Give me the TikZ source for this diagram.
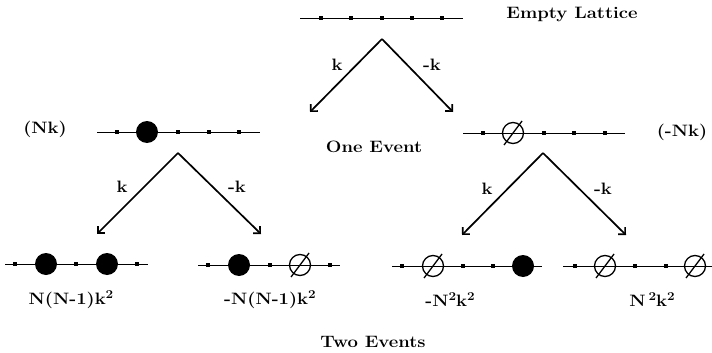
\documentclass[tikz,border=0pt]{standalone}
\usetikzlibrary{arrows.meta}
\newcommand\widetxt[1]{\scalebox{1.12}[1]{#1}}
\newcommand\sqr{\raisebox{6pt}{\fontsize{12}{12}\selectfont 2}}
\begin{document}
\begin{tikzpicture}[x=1pt,y=-1pt,
  lat/.style={line width=0.8pt},
  site/.style={rectangle,fill,minimum size=4pt,inner sep=0pt},
  occ/.style={circle,fill,minimum size=22pt,inner sep=0pt},
  anti/.style={circle,draw,line width=1.3pt,minimum size=21pt,inner sep=0pt},
  slash/.style={line width=1.3pt},
  branch/.style={line width=1.7pt,-{Straight Barb[angle=90:7pt]}},
  lbl/.style={font=\fontsize{16.5}{18}\selectfont\bfseries,inner sep=0pt}]
\useasboundingbox (0,0) rectangle (712,353);
\newcommand\antisite[2]{\node[anti] (#1) at (#2) {};
  \draw[slash] ([shift={(-9,12)}]#1.center) -- ([shift={(9,-12)}]#1.center);}

% top lattice
\draw[lat] (300,18) coordinate (t0) -- (463,18) coordinate (t1);
\foreach \x [count=\i] in {321,351,382,412,442} \node[site] (ts\i) at (\x,18) {};
\node[lbl] (empty) at (572,14) {\widetxt{Empty Lattice}};

\coordinate (a0) at (382,39);
\coordinate (a0l) at (310,112);
\coordinate (a0r) at (453,112);
\draw[branch] (a0) -- (a0l);
\draw[branch] (a0) -- (a0r);
\node[lbl] (k0) at (337,65) {\widetxt{k}};
\node[lbl] (mk0) at (432,65) {\widetxt{-k}};
\node[lbl] (one) at (374,147) {\widetxt{One Event}};

% second row left
\draw[lat] (97,132) coordinate (l0) -- (260,132) coordinate (l1);
\foreach \x [count=\i] in {117,178,209,239} \node[site] (ls\i) at (\x,132) {};
\node[occ] (lo) at (147,132) {};
\node[lbl] (nk) at (45,129) {\widetxt{(Nk)}};

% second row right
\draw[lat] (463,133) coordinate (r0) -- (625,133) coordinate (r1);
\foreach \x [count=\i] in {483,544,574,605} \node[site] (rs\i) at (\x,133) {};
\antisite{ra}{513,133}
\node[lbl] (mnk) at (682,132) {\widetxt{(-Nk)}};

% arrows from left
\coordinate (a1) at (178,153);
\coordinate (a1l) at (97,234);
\coordinate (a1r) at (261,234);
\draw[branch] (a1) -- (a1l);
\draw[branch] (a1) -- (a1r);
\node[lbl] (k1) at (122,187) {\widetxt{k}};
\node[lbl] (mk1) at (237,187) {\widetxt{-k}};

% arrows from right
\coordinate (a2) at (543,153);
\coordinate (a2l) at (462,235);
\coordinate (a2r) at (626,235);
\draw[branch] (a2) -- (a2l);
\draw[branch] (a2) -- (a2r);
\node[lbl] (k2) at (487,189) {\widetxt{k}};
\node[lbl] (mk2) at (603,189) {\widetxt{-k}};

% bottom 1
\draw[lat] (5,264) -- (148,264);
\foreach \x [count=\i] in {15,76,137} \node[site] (b1s\i) at (\x,264) {};
\node[occ] (b1a) at (46,264) {};
\node[occ] (b1b) at (107,264) {};
\node[lbl] (e1) at (71,300) {\widetxt{N(N-1)k\sqr}};

% bottom 2
\draw[lat] (198,265) -- (340,265);
\foreach \x [count=\i] in {208,270,330} \node[site] (b2s\i) at (\x,265) {};
\node[occ] (b2a) at (239,265) {};
\antisite{b2b}{300,265}
\node[lbl] (e2) at (270,300) {\widetxt{-N(N-1)k\sqr}};

% bottom 3
\draw[lat] (392,266) -- (542,266);
\foreach \x [count=\i] in {402,463,493} \node[site] (b3s\i) at (\x,266) {};
\antisite{b3a}{433,266}
\node[occ] (b3b) at (523,266) {};
\node[lbl] (e3) at (450,300) {\widetxt{-N\sqr k\sqr}};

% bottom 4
\draw[lat] (563,266) -- (712,266);
\foreach \x [count=\i] in {575,635,666} \node[site] (b4s\i) at (\x,266) {};
\antisite{b4a}{605,266}
\antisite{b4b}{695,266}
\node[lbl] (e4) at (652,300) {\widetxt{N\,\sqr k\sqr}};

\node[lbl] (two) at (373,342) {\widetxt{Two Events}};
\end{tikzpicture}
\end{document}
